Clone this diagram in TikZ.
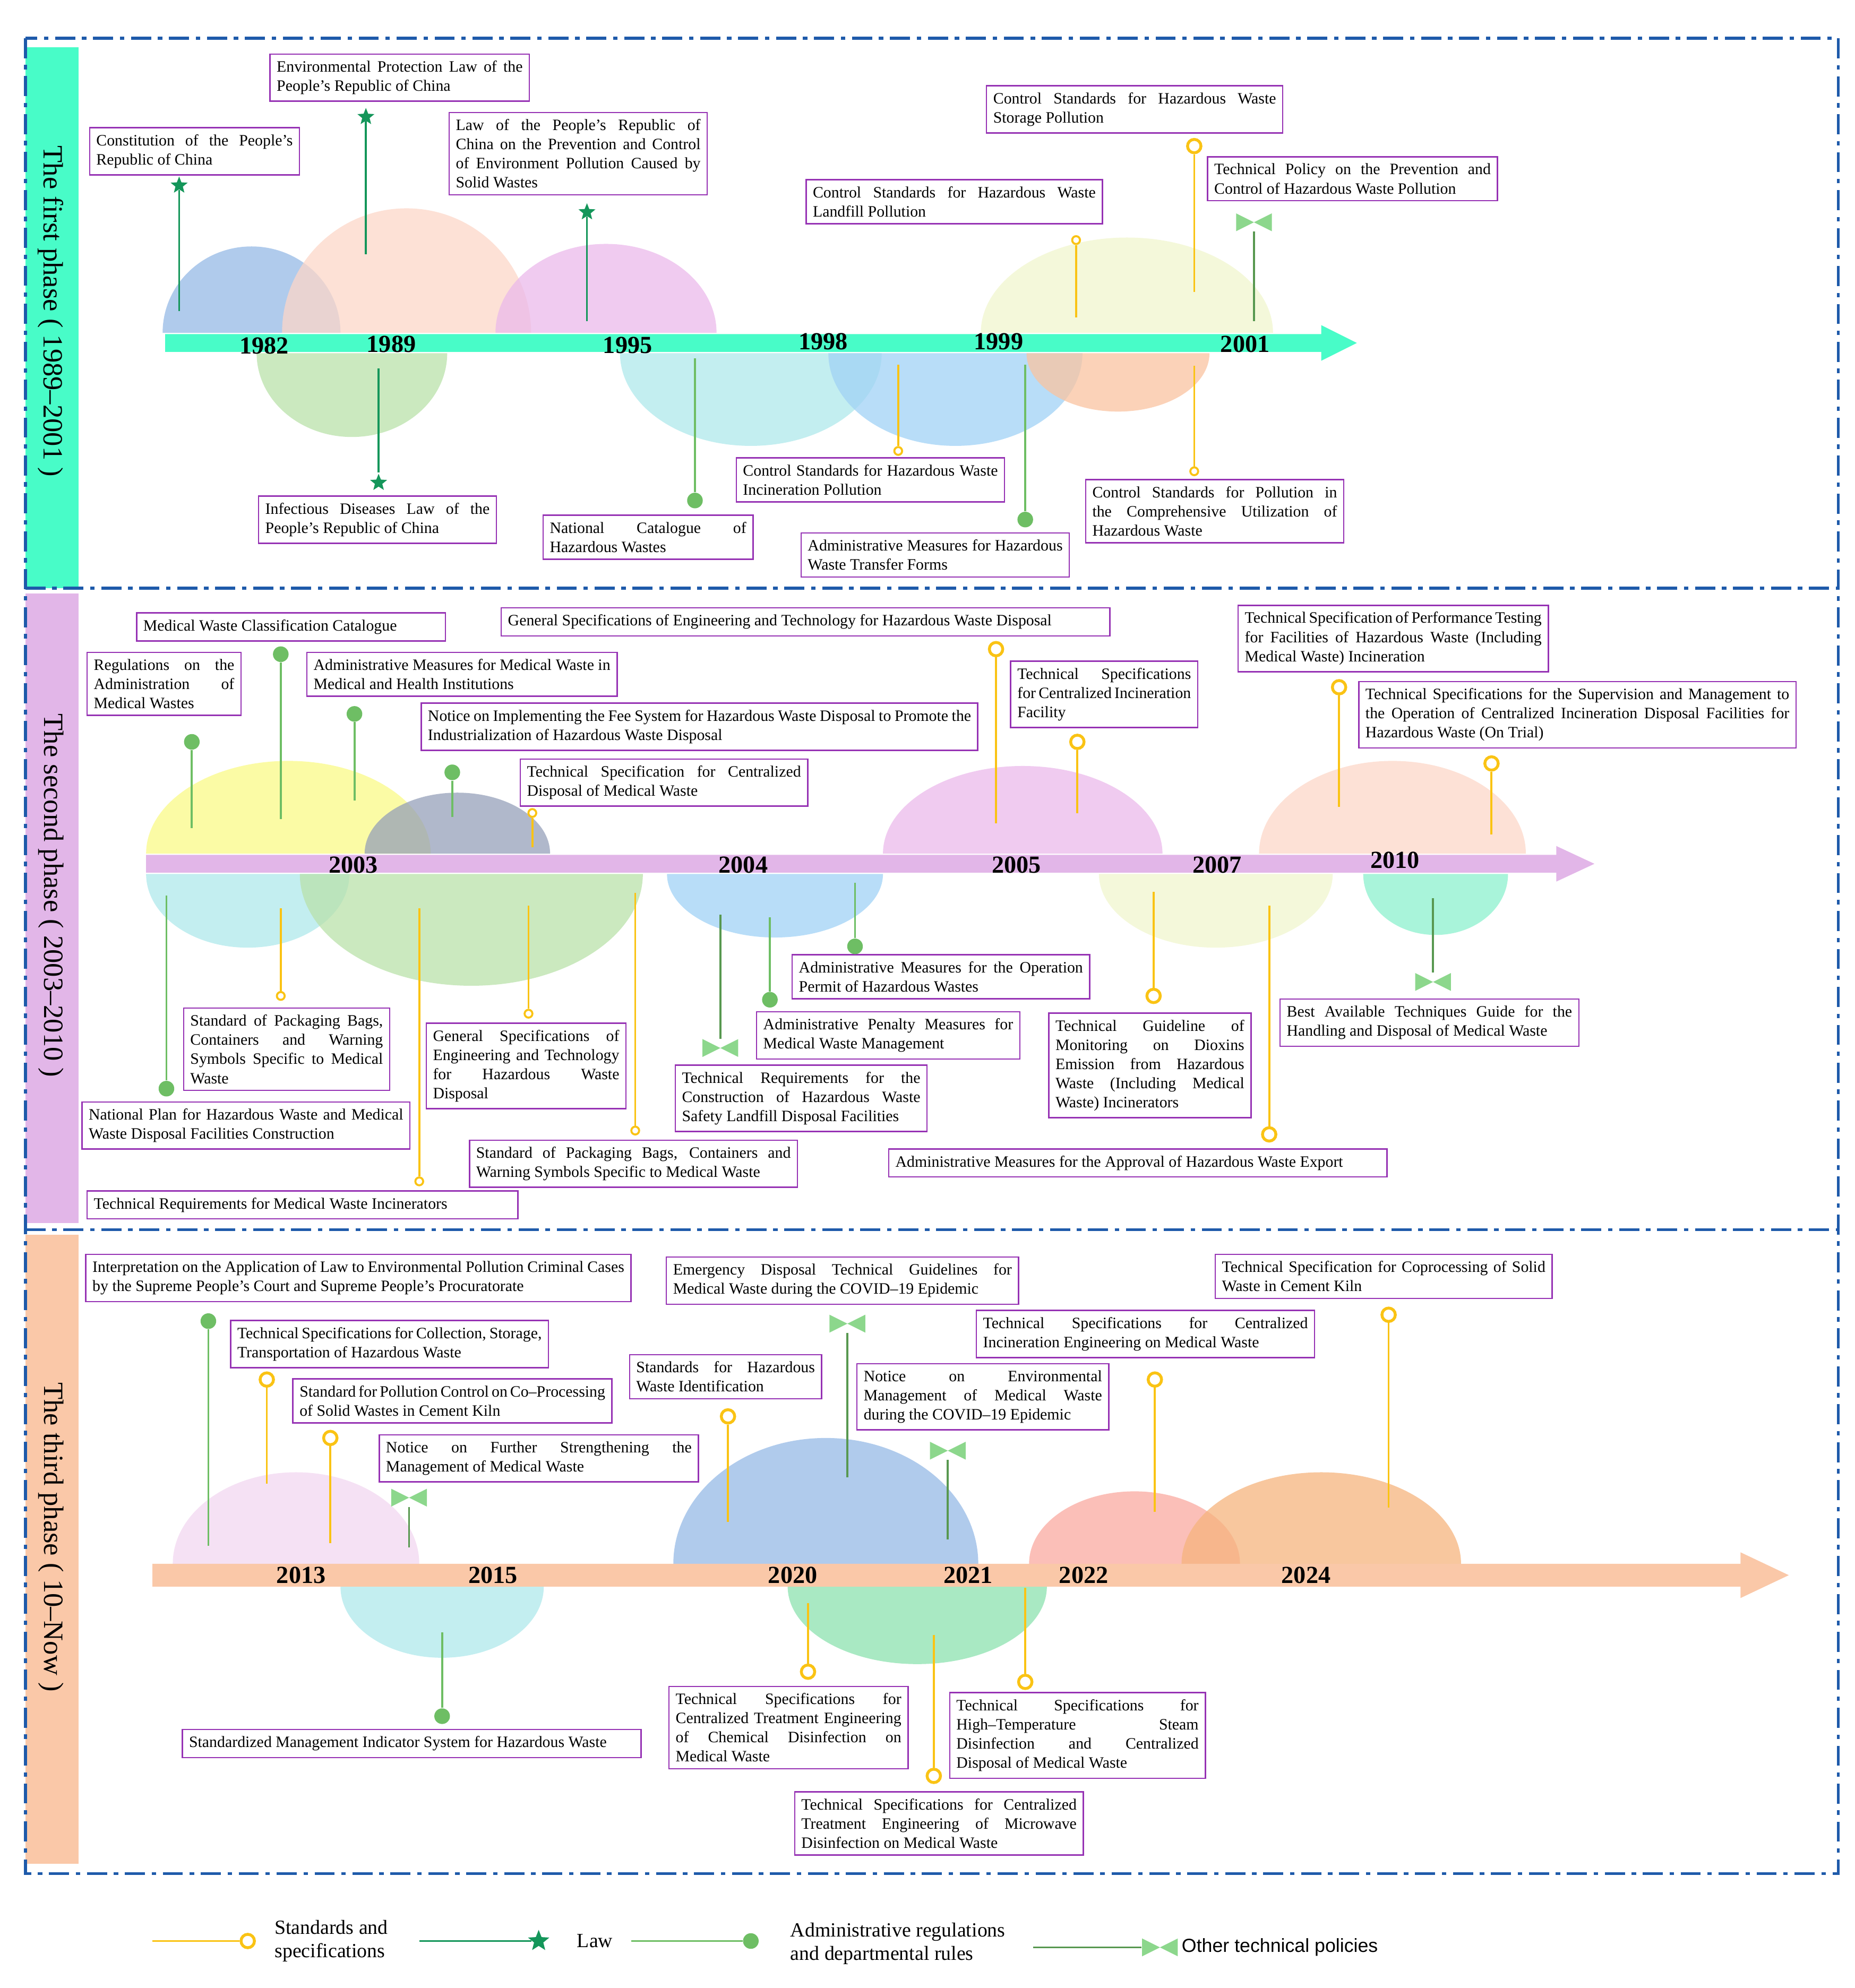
\documentclass[tikz,border=0pt]{standalone}
\usepackage{fontspec}
\setmainfont{Liberation Serif}
\newfontfamily\legsans{Liberation Sans}
\usetikzlibrary{shapes.geometric}
\definecolor{boxc}{RGB}{150, 50, 180}
\definecolor{stdc}{RGB}{250, 195, 20}
\definecolor{lawc}{RGB}{20, 150, 90}
\definecolor{admc}{RGB}{110, 190, 100}
\definecolor{othc}{RGB}{140, 215, 140}
\definecolor{framec}{RGB}{30, 90, 170}
\definecolor{aqua}{RGB}{72, 252, 200}
\definecolor{plum}{RGB}{226, 182, 232}
\definecolor{peach}{RGB}{250, 200, 168}
\definecolor{dblue}{RGB}{150, 185, 230}
\definecolor{dsky}{RGB}{160, 210, 245}
\definecolor{dcyan}{RGB}{175, 232, 235}
\definecolor{dgreen}{RGB}{185, 225, 170}
\definecolor{dpeach}{RGB}{252, 215, 200}
\definecolor{dpink}{RGB}{235, 185, 235}
\definecolor{dcream}{RGB}{240, 245, 205}
\definecolor{dorange}{RGB}{250, 195, 160}
\definecolor{dyellow}{RGB}{250, 250, 135}
\definecolor{dslate}{RGB}{150, 160, 185}
\definecolor{dteal}{RGB}{140, 240, 205}
\definecolor{dred}{RGB}{250, 170, 160}
\definecolor{damber}{RGB}{245, 180, 125}
\definecolor{dmint}{RGB}{140, 225, 175}
\definecolor{dlilac}{RGB}{242, 215, 240}
\newcommand\boxfont{\fontsize{7.1}{8.6}\selectfont\hyphenpenalty=10000\exhyphenpenalty=10000}
\tikzset{
  box/.style={draw=boxc, line width=0.6pt, fill=white, inner sep=3pt, font=\boxfont, align=justify, anchor=north west},
  std/.style={circle, draw=stdc, line width=1.3pt, fill=white, minimum size=6pt, inner sep=0},
  stds/.style={std, minimum size=3.5pt, line width=0.9pt},
  law/.style={star, star points=5, star point ratio=2.3, fill=lawc, minimum size=8pt, inner sep=0},
  adm/.style={circle, fill=admc, minimum size=7pt, inner sep=0},
  oth/.style={minimum width=16pt, minimum height=8pt, inner sep=0, path picture={
    \fill[othc] (path picture bounding box.north west) -- (path picture bounding box.south west)
      -- (path picture bounding box.center) -- cycle
      (path picture bounding box.north east) -- (path picture bounding box.south east)
      -- (path picture bounding box.center) -- cycle;}},
  stdl/.style={draw=stdc, line width=0.9pt},
  stdsl/.style={stdl},
  lawl/.style={draw=lawc, line width=0.9pt},
  adml/.style={draw=admc, line width=0.9pt},
  othl/.style={draw=admc!80!black, line width=0.9pt},
  yr/.style={font=\fontsize{11}{11}\selectfont\bfseries},
  phase/.style={font=\fontsize{12.5}{12.5}\selectfont, rotate=-90},
  frame/.style={draw=framec, line width=1.3pt, dash pattern=on 9pt off 3pt on 2pt off 3pt},
  dome/.style={fill opacity=0.75},
  leg/.style={font=\fontsize{9}{10.5}\selectfont, align=left, anchor=west}
}
% pin: marker node, free end and stem
\newcommand\pin[5]{\node[#1] (#2) at (#3,#4) {}; \coordinate (#2e) at (#3,#5); \draw[#1l] (#2) -- (#2e);}
% box with its left top corner and right edge
\newcommand\bx[5]{\pgfmathsetmacro\tw{(#4-#2)*0.569-7}\node[box, text width=\tw pt] (#1) at (#2,#3) {#5};}
\newcommand\up[5]{\fill[#1, dome] (#2-#3,#5) arc (180:360:#3 and #4) -- cycle;}
\newcommand\dn[5]{\fill[#1, dome] (#2-#3,#5) arc (180:0:#3 and #4) -- cycle;}

\begin{document}
\begin{tikzpicture}[x=0.02cm, y=-0.02cm]
\useasboundingbox (0,0) rectangle (1460,1565);

% phase bands and frame
\fill[aqua] (20,37) rectangle (62,463);
\fill[plum] (20,467) rectangle (62,963);
\fill[peach] (20,972) rectangle (62,1467);
\node[phase] (p1) at (40,245) {The first phase ( 1989–2001 )};
\node[phase] (p2) at (40,705) {The second phase ( 2003–2010 )};
\node[phase] (p3) at (40,1210) {The third phase ( 10–Now )};
\draw[frame] (20,30) rectangle (1447,1475);
\draw[frame] (20,463) -- (1447,463);
\draw[frame] (20,968) -- (1447,968);

% domes
\up{dblue}{198}{70}{68}{262}
\up{dpeach}{320}{98}{98}{262}
\up{dpink}{477}{87}{70}{262}
\up{dcream}{887}{115}{75}{262}
\dn{dgreen}{277}{75}{66}{278}
\dn{dcyan}{591}{103}{73}{278}
\dn{dsky}{752}{100}{73}{278}
\dn{dorange}{880}{72}{46}{278}

\up{dyellow}{227}{112}{73}{672}
\up{dslate}{360}{73}{48}{672}
\up{dpink}{805}{110}{69}{672}
\up{dpeach}{1096}{105}{73}{672}
\dn{dcyan}{195}{80}{58}{688}
\dn{dgreen}{371}{135}{88}{688}
\dn{dsky}{610}{85}{50}{688}
\dn{dcream}{957}{92}{58}{688}
\dn{dteal}{1130}{57}{48}{688}

\up{dlilac}{233}{97}{72}{1231}
\up{dblue}{650}{120}{99}{1231}
\up{dred}{893}{83}{57}{1231}
\up{damber}{1040}{110}{72}{1231}
\dn{dcyan}{348}{80}{56}{1249}
\dn{dmint}{722}{102}{61}{1249}

% time axes
\fill[aqua] (130,263) -- (1040,263) -- (1040,256) -- (1068,270) -- (1040,284) -- (1040,277) -- (130,277) -- cycle;
\fill[plum] (115,673) -- (1225,673) -- (1225,666) -- (1255,680) -- (1225,694) -- (1225,687) -- (115,687) -- cycle;
\fill[peach] (120,1231) -- (1370,1231) -- (1370,1222) -- (1408,1240) -- (1370,1258) -- (1370,1249) -- (120,1249) -- cycle;

\foreach \yy/\xx/\yv in {1982/208/272, 1989/308/271, 1995/494/272, 1998/648/269, 1999/786/269, 2001/980/271,
  2003/278/681, 2004/585/681, 2005/800/681, 2007/958/681, 2010/1098/677,
  2013/237/1240, 2015/388/1240, 2020/624/1240, 2021/762/1240, 2022/853/1240, 2024/1028/1240}
  \node[yr] (y\yy) at (\xx,\yv) {\yy};

% first phase
\bx{b1}{70}{100}{237}{Constitution of the People's Republic of China}
\pin{law}{m1}{141}{146}{245}
\bx{b2}{212}{42}{418}{Environmental Protection Law of the People's Republic of China}
\pin{law}{m2}{288}{92}{200}
\bx{b3}{353}{88}{558}{Law of the People's Republic of China on the Prevention and Control of Environment Pollution Caused by Solid Wastes}
\pin{law}{m3}{462}{167}{253}
\bx{b4}{776}{67}{1011}{Control Standards for Hazardous Waste Storage Pollution}
\pin{std}{m4}{940}{115}{230}
\bx{b5}{950}{123}{1180}{Technical Policy on the Prevention and Control of Hazardous Waste Pollution}
\pin{oth}{m5}{987}{175}{253}
\bx{b6}{634}{141}{869}{Control Standards for Hazardous Waste Landfill Pollution}
\pin{stds}{m6}{847}{189}{250}
\bx{b7}{203}{390}{392}{Infectious Diseases Law of the People's Republic of China}
\pin{law}{m7}{298}{380}{290}
\bx{b8}{427}{405}{594}{National Catalogue of Hazardous Wastes}
\pin{adm}{m8}{547}{394}{282}
\bx{b9}{579}{360}{792}{Control Standards for Hazardous Waste Incineration Pollution}
\pin{stds}{m9}{707}{355}{287}
\bx{b10}{630}{419}{843}{Administrative Measures for Hazardous Waste Transfer Forms}
\pin{adm}{m10}{807}{409}{287}
\bx{b11}{854}{377}{1059}{Control Standards for Pollution in the Comprehensive Utilization of Hazardous Waste}
\pin{stds}{m11}{940}{371}{288}

% second phase
\bx{b12}{107}{482}{352}{Medical Waste Classification Catalogue}
\pin{adm}{m12}{221}{515}{645}
\bx{b13}{68}{513}{191}{Regulations on the Administration of Medical Wastes}
\pin{adm}{m13}{151}{584}{652}
\bx{b14}{241}{513}{487}{Administrative Measures for Medical Waste in Medical and Health Institutions}
\pin{adm}{m14}{279}{562}{630}
\bx{b15}{394}{478}{875}{General Specifications of Engineering and Technology for Hazardous Waste Disposal}
\pin{std}{m15}{784}{511}{648}
\bx{b16}{331}{553}{771}{Notice on Implementing the Fee System for Hazardous Waste Disposal to Promote the Industrialization of Hazardous Waste Disposal}
\pin{adm}{m16}{356}{608}{643}
\bx{b17}{409}{597}{637}{Technical Specification for Centralized Disposal of Medical Waste}
\pin{stds}{m17}{419}{640}{667}
\bx{b18}{795}{520}{944}{Technical Specifications for Centralized Incineration Facility}
\pin{std}{m18}{848}{584}{640}
\bx{b19}{974}{476}{1220}{Technical Specification of Performance Testing for Facilities of Hazardous Waste (Including Medical Waste) Incineration}
\pin{std}{m19}{1054}{541}{635}
\bx{b20}{1069}{536}{1415}{Technical Specifications for the Supervision and Management to the Operation of Centralized Incineration Disposal Facilities for Hazardous Waste (On Trial)}
\pin{std}{m20}{1174}{601}{657}
\bx{b21}{144}{793}{308}{Standard of Packaging Bags, Containers and Warning Symbols Specific to Medical Waste}
\pin{stds}{m21}{221}{784}{715}
\bx{b22}{64}{867}{324}{National Plan for Hazardous Waste and Medical Waste Disposal Facilities Construction}
\pin{adm}{m22}{131}{857}{705}
\bx{b23}{68}{937}{409}{Technical Requirements for Medical Waste Incinerators}
\pin{stds}{m23}{330}{930}{715}
\bx{b24}{335}{805}{494}{General Specifications of Engineering and Technology for Hazardous Waste Disposal}
\pin{stds}{m24}{416}{798}{713}
\bx{b25}{369}{897}{629}{Standard of Packaging Bags, Containers and Warning Symbols Specific to Medical Waste}
\pin{stds}{m25}{500}{890}{703}
\bx{b26}{531}{838}{731}{Technical Requirements for the Construction of Hazardous Waste Safety Landfill Disposal Facilities}
\pin{oth}{m26}{567}{825}{720}
\bx{b27}{595}{796}{804}{Administrative Penalty Measures for Medical Waste Management}
\pin{adm}{m27}{606}{787}{722}
\bx{b28}{623}{751}{859}{Administrative Measures for the Operation Permit of Hazardous Wastes}
\pin{adm}{m28}{673}{745}{695}
\bx{b29}{825}{797}{986}{Technical Guideline of Monitoring on Dioxins Emission from Hazardous Waste (Including Medical Waste) Incinerators}
\pin{std}{m29}{908}{784}{702}
\bx{b30}{699}{904}{1093}{Administrative Measures for the Approval of Hazardous Waste Export}
\pin{std}{m30}{999}{893}{713}
\bx{b31}{1007}{786}{1244}{Best Available Techniques Guide for the Handling and Disposal of Medical Waste}
\pin{oth}{m31}{1128}{773}{707}

% third phase
\bx{b32}{67}{987}{498}{Interpretation on the Application of Law to Environmental Pollution Criminal Cases by the Supreme People's Court and Supreme People's Procuratorate}
\pin{adm}{m32}{164}{1040}{1217}
\bx{b33}{181}{1039}{433}{Technical Specifications for Collection, Storage, Transportation of Hazardous Waste}
\pin{std}{m33}{210}{1086}{1168}
\bx{b34}{230}{1085}{483}{Standard for Pollution Control on Co–Processing of Solid Wastes in Cement Kiln}
\pin{std}{m34}{260}{1132}{1215}
\bx{b35}{298}{1129}{551}{Notice on Further Strengthening the Management of Medical Waste}
\pin{oth}{m35}{322}{1179}{1218}
\bx{b36}{495}{1066}{648}{Standards for Hazardous Waste Identification}
\pin{std}{m36}{573}{1115}{1198}
\bx{b37}{524}{989}{803}{Emergency Disposal Technical Guidelines for Medical Waste during the COVID–19 Epidemic}
\pin{oth}{m37}{667}{1042}{1163}
\bx{b38}{674}{1073}{874}{Notice on Environmental Management of Medical Waste during the COVID–19 Epidemic}
\pin{oth}{m38}{746}{1142}{1212}
\bx{b39}{768}{1031}{1036}{Technical Specifications for Centralized Incineration Engineering on Medical Waste}
\pin{std}{m39}{909}{1086}{1190}
\bx{b40}{956}{987}{1223}{Technical Specification for Coprocessing of Solid Waste in Cement Kiln}
\pin{std}{m40}{1093}{1035}{1187}
\bx{b41}{143}{1361}{506}{Standardized Management Indicator System for Hazardous Waste}
\pin{adm}{m41}{348}{1351}{1285}
\bx{b42}{526}{1327}{716}{Technical Specifications for Centralized Treatment Engineering of Chemical Disinfection on Medical Waste}
\pin{std}{m42}{636}{1316}{1262}
\bx{b43}{625}{1410}{854}{Technical Specifications for Centralized Treatment Engineering of Microwave Disinfection on Medical Waste}
\pin{std}{m43}{735}{1398}{1287}
\bx{b44}{747}{1332}{950}{Technical Specifications for High–Temperature Steam Disinfection and Centralized Disposal of Medical Waste}
\pin{std}{m44}{807}{1324}{1250}

% legend
\node[std] (l1) at (195,1528) {};
\coordinate (l1e) at (120,1528); \draw[stdl] (l1) -- (l1e);
\node[leg] (t1) at (210,1528) {Standards and\\specifications};
\node[law, minimum size=10pt] (l2) at (424,1528) {};
\coordinate (l2e) at (330,1528); \draw[lawl] (l2) -- (l2e);
\node[leg] (t2) at (448,1528) {Law};
\node[adm] (l3) at (591,1528) {};
\coordinate (l3e) at (497,1528); \draw[adml] (l3) -- (l3e);
\node[leg] (t3) at (616,1530) {Administrative regulations\\and departmental rules};
\node[oth] (l4) at (913,1533) {};
\coordinate (l4e) at (813,1533); \draw[othl] (l4) -- (l4e);
\node[leg, font=\legsans\fontsize{8.5}{10}\selectfont] (t4) at (924,1533) {Other technical policies};

\end{tikzpicture}
\end{document}
